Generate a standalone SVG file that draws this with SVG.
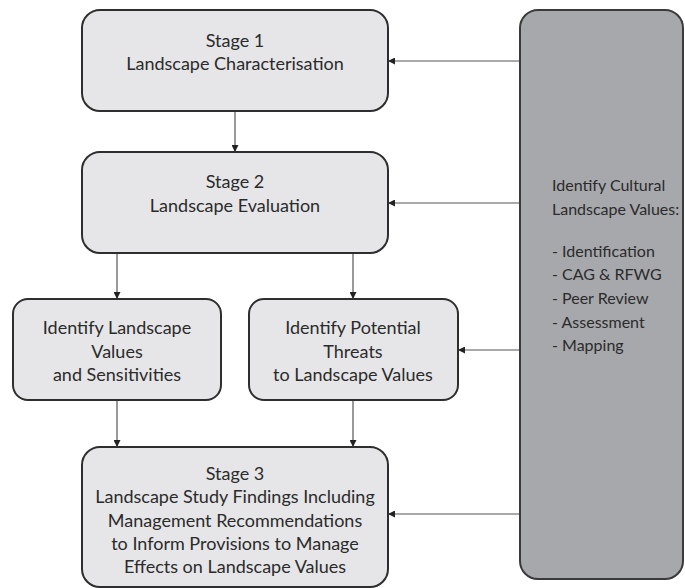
<svg xmlns="http://www.w3.org/2000/svg" width="685" height="588" viewBox="0 0 685 588">
<defs>
<style>
.box{fill:#e6e6e8;stroke:#2e2e2e;stroke-width:2}
.side{fill:#a7a8ab;stroke:#3a3a3a;stroke-width:2}
.t{font-family:Lato,"Open Sans","Liberation Sans",sans-serif;font-size:18px;fill:#2b2b2b;text-anchor:middle}
.tl{font-family:Lato,"Open Sans","Liberation Sans",sans-serif;font-size:16px;fill:#2b2b2b}
.c{stroke:#555;stroke-width:1.2;fill:none;marker-end:url(#ah)}
</style>
<marker id="ah" viewBox="0 0 10 10" refX="10" refY="5" markerWidth="7" markerHeight="7" markerUnits="userSpaceOnUse" orient="auto">
<path d="M0,0 L10,5 L0,10 z" fill="#222"/>
</marker>
</defs>
<rect width="685" height="588" fill="#fff"/>
<g id="connectors">
<path class="c" d="M235,111 V152"/>
<path class="c" d="M117,253 V299"/>
<path class="c" d="M353,253 V299"/>
<path class="c" d="M117,400 V447"/>
<path class="c" d="M353,400 V447"/>
<path class="c" d="M520,61 H388"/>
<path class="c" d="M520,203 H388"/>
<path class="c" d="M520,350 H458"/>
<path class="c" d="M520,514 H388"/>
</g>
<g id="stage1">
<rect class="box" x="82" y="10" width="306" height="101" rx="18"/>
<text class="t" x="235" y="47">Stage 1</text>
<text class="t" x="235" y="70">Landscape Characterisation</text>
</g>
<g id="stage2">
<rect class="box" x="82" y="152" width="306" height="101" rx="18"/>
<text class="t" x="235" y="188">Stage 2</text>
<text class="t" x="235" y="212">Landscape Evaluation</text>
</g>
<g id="values">
<rect class="box" x="13" y="299" width="208" height="101" rx="15"/>
<text class="t" x="117" y="334">Identify Landscape</text>
<text class="t" x="117" y="358">Values</text>
<text class="t" x="117" y="381">and Sensitivities</text>
</g>
<g id="threats">
<rect class="box" x="249" y="299" width="209" height="101" rx="15"/>
<text class="t" x="353" y="334">Identify Potential</text>
<text class="t" x="353" y="358">Threats</text>
<text class="t" x="353" y="381">to Landscape Values</text>
</g>
<g id="stage3">
<rect class="box" x="82" y="447" width="306" height="140" rx="18"/>
<text class="t" x="235" y="480">Stage 3</text>
<text class="t" x="235" y="503">Landscape Study Findings Including</text>
<text class="t" x="235" y="527">Management Recommendations</text>
<text class="t" x="235" y="550">to Inform Provisions to Manage</text>
<text class="t" x="235" y="573">Effects on Landscape Values</text>
</g>
<g id="cultural">
<rect class="side" x="520" y="10" width="163" height="569" rx="18"/>
<text class="tl" x="552" y="191">Identify Cultural</text>
<text class="tl" x="552" y="215">Landscape Values:</text>
<text class="tl" x="552" y="257">- Identification</text>
<text class="tl" x="552" y="280">- CAG &amp; RFWG</text>
<text class="tl" x="552" y="304">- Peer Review</text>
<text class="tl" x="552" y="328">- Assessment</text>
<text class="tl" x="552" y="351">- Mapping</text>
</g>
</svg>
